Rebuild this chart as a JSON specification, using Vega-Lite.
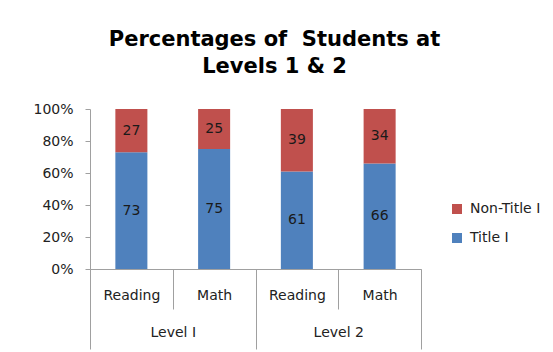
{
  "$schema": "https://vega.github.io/schema/vega-lite/v6.json",
  "width": 331,
  "height": 160,
  "autosize": {"type": "none"},
  "padding": {"left": 90, "top": 109, "right": 132, "bottom": 83},
  "background": "white",
  "config": {
    "view": {"stroke": null},
    "font": "DejaVu Sans",
    "axis": {"labelFont": "DejaVu Sans", "labelFontSize": 14, "labelColor": "#222222", "domainColor": "#a0a0a0", "tickColor": "#a0a0a0", "grid": false, "title": null, "labelOverlap": false}
  },
  "title": {
    "text": ["Percentages of \u00a0Students at", "Levels 1 & 2"],
    "font": "DejaVu Sans",
    "fontWeight": "bold",
    "fontSize": 21,
    "lineHeight": 27,
    "color": "#000000",
    "anchor": "middle",
    "dx": 19,
    "offset": 25
  },
  "data": {
    "values": [
      {"level": "Level I", "subject": "Reading", "key": "Level I|Reading", "series": "Title I", "pct": 73},
      {"level": "Level I", "subject": "Reading", "key": "Level I|Reading", "series": "Non-Title I", "pct": 27},
      {"level": "Level I", "subject": "Math", "key": "Level I|Math", "series": "Title I", "pct": 75},
      {"level": "Level I", "subject": "Math", "key": "Level I|Math", "series": "Non-Title I", "pct": 25},
      {"level": "Level 2", "subject": "Reading", "key": "Level 2|Reading", "series": "Title I", "pct": 61},
      {"level": "Level 2", "subject": "Reading", "key": "Level 2|Reading", "series": "Non-Title I", "pct": 39},
      {"level": "Level 2", "subject": "Math", "key": "Level 2|Math", "series": "Title I", "pct": 66},
      {"level": "Level 2", "subject": "Math", "key": "Level 2|Math", "series": "Non-Title I", "pct": 34}
    ]
  },
  "layer": [
    {
      "mark": {"type": "bar", "width": {"band": 0.387}},
      "encoding": {
        "x": {
          "field": "key", "type": "nominal",
          "scale": {"domain": ["Level I|Reading", "Level I|Math", "Level 2|Reading", "Level 2|Math"], "paddingInner": 0, "paddingOuter": 0},
          "axis": {"orient": "bottom", "labelAngle": 0, "labelExpr": "split(datum.label, '|')[1]", "tickBand": "extent", "tickSize": 40, "labelPadding": -21}
        },
        "y": {
          "field": "pct", "type": "quantitative", "stack": "normalize",
          "scale": {"domain": [0, 1]},
          "axis": {"format": ".0%", "values": [0, 0.2, 0.4, 0.6, 0.8, 1], "tickCount": 10, "tickSize": 5, "labelPadding": 12, "labelOverlap": false}
        },
        "color": {
          "field": "series", "type": "nominal",
          "scale": {"domain": ["Non-Title I", "Title I"], "range": ["#C0504D", "#4F81BD"]},
          "legend": {"title": null, "orient": "none", "legendX": 360, "legendY": 93, "padding": 0, "symbolType": "square", "symbolSize": 100, "symbolStrokeWidth": 0, "labelFont": "DejaVu Sans", "labelFontSize": 14, "labelColor": "#222222", "labelOffset": 6, "rowPadding": 15}
        },
        "order": {"field": "series", "sort": "descending"}
      }
    },
    {
      "mark": {"type": "text", "fontSize": 14, "font": "DejaVu Sans", "color": "#1a1a1a", "baseline": "middle"},
      "encoding": {
        "x": {"field": "key", "type": "nominal", "scale": {"domain": ["Level I|Reading", "Level I|Math", "Level 2|Reading", "Level 2|Math"], "paddingInner": 0, "paddingOuter": 0}, "axis": null},
        "y": {"field": "pct", "type": "quantitative", "stack": "normalize", "bandPosition": 0.5},
        "text": {"field": "pct", "type": "quantitative"},
        "order": {"field": "series", "sort": "descending"}
      }
    },
    {
      "mark": {"type": "point", "opacity": 0},
      "encoding": {
        "x": {
          "field": "level", "type": "nominal",
          "scale": {"domain": ["Level I", "Level 2"], "paddingInner": 0, "paddingOuter": 0},
          "axis": {"orient": "bottom", "labelAngle": 0, "domain": false, "tickBand": "extent", "tickSize": 80, "labelPadding": -24}
        }
      }
    }
  ],
  "resolve": {"scale": {"x": "independent"}, "axis": {"x": "independent"}}
}
